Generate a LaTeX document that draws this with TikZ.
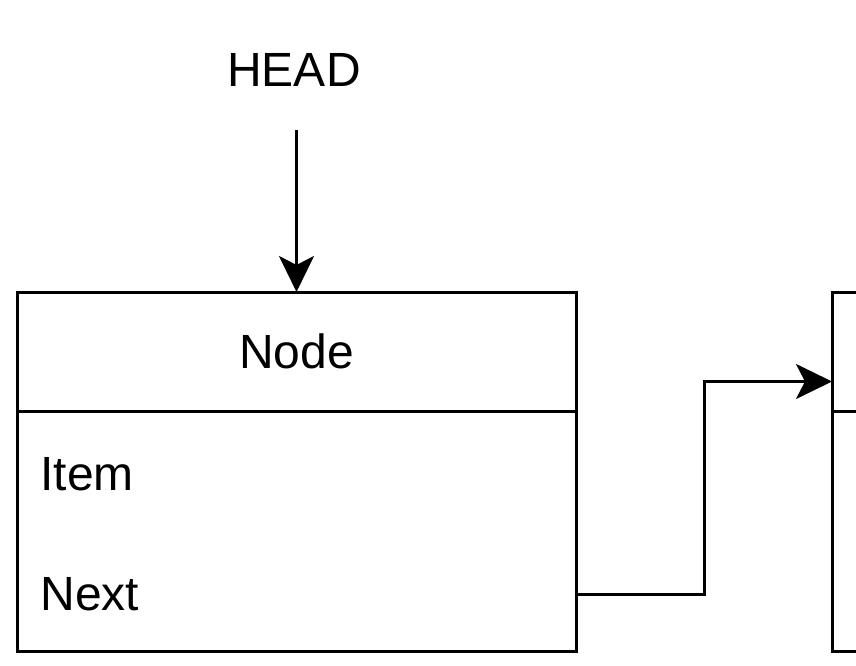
\documentclass[tikz,border=0pt]{standalone}
\usepackage{fontspec}
\setmainfont{Liberation Sans}
\usetikzlibrary{arrows.meta,positioning}

\begin{document}
\begin{tikzpicture}[x=1pt,y=-1pt,line width=3pt,
  font=\fontsize{48}{57}\selectfont,
  box/.style={draw,line width=3pt,minimum width=559pt,inner sep=0pt,outer sep=0pt,anchor=north west},
  field/.style={anchor=west,inner sep=0pt},
  link/.style={-{Stealth[length=36pt,width=35pt,inset=9pt]},line width=3pt}]

     \useasboundingbox (0,0) rectangle (856,666);
     \clip (0,0) rectangle (856,666);

     %两个节点
     \foreach \x/\n/\t in {17/1/Node,832/2/{}}  {
     	\node[box,minimum height=119pt] (title\n) at (\x,292) {\t};
     	\node[box,minimum height=240pt] (body\n) at (\x,411) {};
     }
     \node[field] (item1) at (39,474) {Item};
     \node[field] (next1) at (39,594) {Next};

     \node (head) at (294,70) {HEAD};

     %指针
     \draw [link,shorten <=39pt] (title1.north |- head.south) -- (title1.north);
     \draw [link] (body1.east |- next1) -- ++(128,0) |- ([yshift=-30pt]title2.west);

\end{tikzpicture}
\end{document}
